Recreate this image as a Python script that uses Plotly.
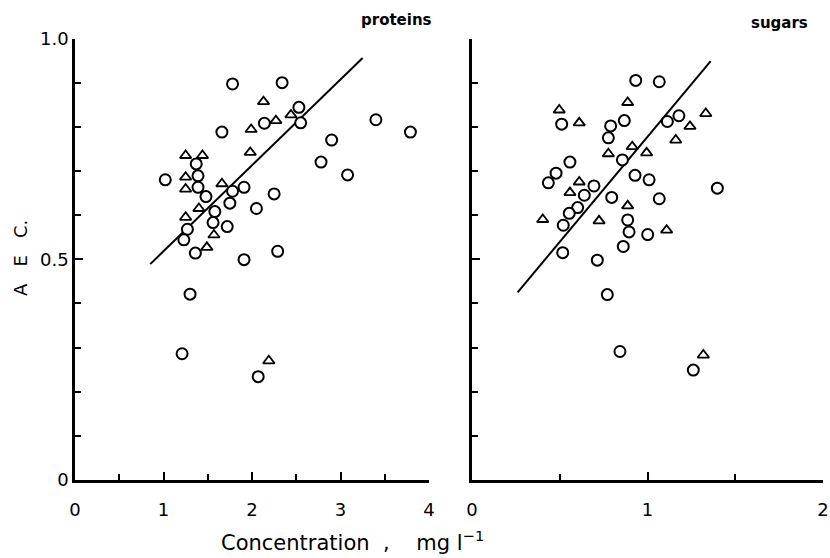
import plotly.graph_objects as go

# ---- data ----
prot_circ_x = [1.78, 2.34, 2.53, 2.55, 2.14, 1.66, 3.40, 3.79, 2.90, 2.78, 3.08, 1.37, 1.39, 1.02,
               1.39, 1.48, 1.78, 1.91, 1.75, 2.25, 2.05, 1.58, 1.56, 1.72, 1.27, 1.23, 1.36, 1.91,
               2.29, 1.30, 1.21, 2.07]
prot_circ_y = [0.897, 0.900, 0.844, 0.809, 0.808, 0.788, 0.816, 0.788, 0.770, 0.720, 0.691, 0.716,
               0.689, 0.680, 0.663, 0.642, 0.654, 0.663, 0.627, 0.648, 0.615, 0.608, 0.583, 0.574,
               0.568, 0.544, 0.514, 0.499, 0.518, 0.421, 0.286, 0.234]
prot_tri_x = [2.13, 2.27, 2.44, 1.99, 1.98, 1.25, 1.44, 1.25, 1.25, 1.66, 1.40, 1.25, 1.57, 1.49, 2.19]
prot_tri_y = [0.857, 0.814, 0.827, 0.794, 0.742, 0.735, 0.735, 0.686, 0.659, 0.671, 0.615, 0.595,
              0.555, 0.527, 0.270]
prot_fit_x = [0.85, 3.25]
prot_fit_y = [0.489, 0.956]

sug_circ_x = [0.933, 1.067, 1.179, 1.113, 0.868, 0.790, 0.511, 0.777, 0.857, 0.558, 0.479, 0.435,
              0.929, 1.009, 0.695, 0.640, 0.796, 1.067, 1.398, 0.602, 0.554, 0.520, 0.887, 0.895,
              1.001, 0.862, 0.517, 0.714, 0.771, 0.843, 1.261]
sug_circ_y = [0.905, 0.902, 0.825, 0.812, 0.814, 0.802, 0.806, 0.775, 0.725, 0.720, 0.695, 0.673,
              0.690, 0.680, 0.666, 0.645, 0.640, 0.637, 0.661, 0.617, 0.604, 0.577, 0.589, 0.562,
              0.556, 0.529, 0.515, 0.498, 0.420, 0.291, 0.249]
sug_tri_x = [0.887, 0.497, 0.611, 1.332, 1.242, 1.161, 0.913, 0.995, 0.777, 0.611, 0.558, 0.887,
             0.403, 0.724, 1.109, 1.318]
sug_tri_y = [0.855, 0.838, 0.809, 0.830, 0.801, 0.770, 0.755, 0.741, 0.739, 0.675, 0.651, 0.621,
             0.590, 0.587, 0.566, 0.283]
sug_fit_x = [0.26, 1.36]
sug_fit_y = [0.425, 0.949]

y_tickvals = [0, 0.5, 1.0]
y_ticktext = ["0", "0.5", "1.0"]
prot_xticks = [0, 1, 2, 3, 4]
sug_xticks = [0, 1, 2]

FONT = "DejaVu Sans"
W, H = 830, 558

fig = go.Figure()

circ = dict(symbol="circle", size=11, color="white", line=dict(color="black", width=2))
tri = dict(symbol="triangle-up", size=10, color="white", line=dict(color="black", width=1.8))

for xa, ya, fx, fy, cx, cy, tx, ty in [
    ("x", "y", prot_fit_x, prot_fit_y, prot_circ_x, prot_circ_y, prot_tri_x, prot_tri_y),
    ("x2", "y2", sug_fit_x, sug_fit_y, sug_circ_x, sug_circ_y, sug_tri_x, sug_tri_y),
]:
    fig.add_trace(go.Scatter(x=fx, y=fy, mode="lines", line=dict(color="black", width=2),
                             xaxis=xa, yaxis=ya, showlegend=False))
    fig.add_trace(go.Scatter(x=tx, y=ty, mode="markers", marker=tri,
                             xaxis=xa, yaxis=ya, showlegend=False))
    fig.add_trace(go.Scatter(x=cx, y=cy, mode="markers", marker=circ,
                             xaxis=xa, yaxis=ya, showlegend=False))

ydom = [1 - 480 / H, 1 - 38.5 / H]
common_ax = dict(showgrid=False, zeroline=False, showline=True, linecolor="black", linewidth=2.5,
                 ticks="inside", ticklen=8, tickwidth=1.5, tickcolor="black", automargin=False,
                 tickfont=dict(family=FONT, size=18, color="black"))

fig.update_layout(
    width=W, height=H, margin=dict(l=0, r=0, t=0, b=0),
    plot_bgcolor="white", paper_bgcolor="white",
    xaxis=dict(domain=[75 / W, 429 / W], range=[0, 4], tickvals=prot_xticks,
               minor=dict(dtick=0.5, ticks="inside", ticklen=6, tickcolor="black"),
               ticklabelstandoff=12, anchor="y", **common_ax),
    yaxis=dict(domain=ydom, range=[0, 1], tickvals=y_tickvals, ticktext=y_ticktext,
               minor=dict(dtick=0.1, ticks="inside", ticklen=6, tickcolor="black"),
               anchor="x", **common_ax),
    xaxis2=dict(domain=[472 / W, 823 / W], range=[0, 2], tickvals=sug_xticks,
                minor=dict(dtick=0.5, ticks="inside", ticklen=6, tickcolor="black"),
                ticklabelstandoff=12, anchor="y2", **common_ax),
    yaxis2=dict(domain=ydom, range=[0, 1], tickvals=y_tickvals, showticklabels=False,
                minor=dict(dtick=0.1, ticks="inside", ticklen=6, tickcolor="black"),
                anchor="x2", **common_ax),
    annotations=[
        dict(text="<b>proteins</b>", x=396 / W, y=1 - 20 / H, xref="paper", yref="paper",
             xanchor="center", yanchor="middle",
             showarrow=False, font=dict(family=FONT, size=15, color="black")),
        dict(text="<b>sugars</b>", x=779 / W, y=1 - 23 / H, xref="paper", yref="paper",
             xanchor="center", yanchor="middle",
             showarrow=False, font=dict(family=FONT, size=15, color="black")),
        dict(text="Concentration  ,    mg l<sup>−1</sup>", x=352 / W, y=1 - 541 / H,
             xref="paper", yref="paper", showarrow=False, xanchor="center", yanchor="middle",
             font=dict(family=FONT, size=21, color="black")),
        dict(text="A   E   C.", x=20 / W, y=1 - 258 / H, xref="paper", yref="paper",
             xanchor="center", yanchor="middle",
             showarrow=False, textangle=-90, font=dict(family=FONT, size=18, color="black")),
    ],
)

fig.write_html("out.html")
